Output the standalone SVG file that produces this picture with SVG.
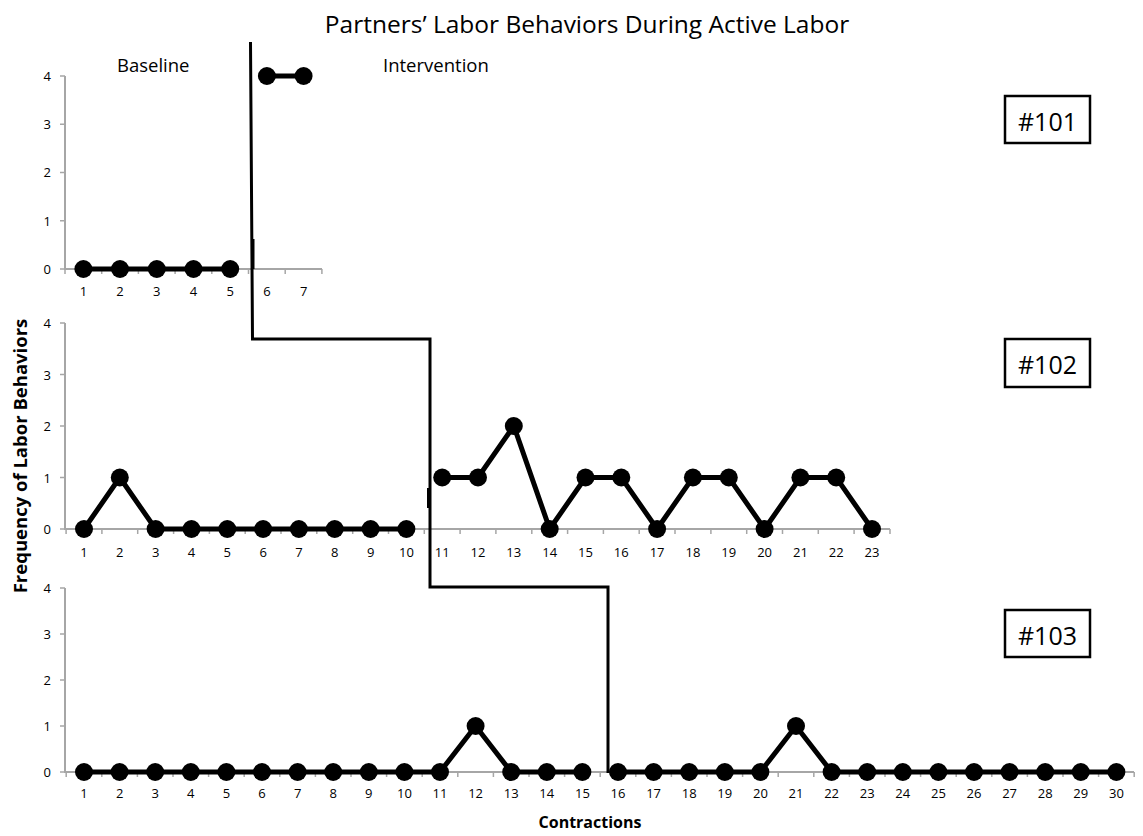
<svg xmlns="http://www.w3.org/2000/svg" width="1143" height="836" viewBox="0 0 1143 836">
<style>
  .axis{fill:none;stroke:#a6a6a6;stroke-width:2}
  .tick{fill:none;stroke:#a6a6a6;stroke-width:1.5}
  .data{fill:none;stroke:#000;stroke-width:5;stroke-linejoin:miter;marker-start:url(#dot);marker-mid:url(#dot);marker-end:url(#dot)}
  .phase{fill:none;stroke:#000;stroke-width:3}
  .lbl{font-family:"Open Sans","Liberation Sans",sans-serif;font-size:13px;fill:#000}
  .yl{text-anchor:end}
  .xl{text-anchor:middle}
  .title{font-family:"Open Sans","Liberation Sans",sans-serif;font-size:24.5px;fill:#000;text-anchor:middle}
  .phaselbl{font-family:"Open Sans","Liberation Sans",sans-serif;font-size:18.5px;fill:#000}
  .axtitle{font-family:"Open Sans","Liberation Sans",sans-serif;font-weight:bold;fill:#000;text-anchor:middle}
  .box{fill:#fff;stroke:#000;stroke-width:2.5}
  .boxtxt{font-family:"Open Sans","Liberation Sans",sans-serif;font-size:25px;fill:#000;text-anchor:middle}
</style>
<defs>
  <marker id="dot" markerUnits="userSpaceOnUse" markerWidth="20" markerHeight="20" refX="10" refY="10" viewBox="0 0 20 20">
    <circle cx="10" cy="10" r="9" fill="#000"/>
  </marker>
</defs>

<text class="title" x="587" y="33">Partners’ Labor Behaviors During Active Labor</text>
<text class="axtitle" font-size="18.5" transform="translate(27,456) rotate(-90)">Frequency of Labor Behaviors</text>
<text class="axtitle" font-size="16" x="590" y="828">Contractions</text>

<g id="panel-101">
  <path class="axis" d="M65 76V269H322"/>
  <path class="tick" d="M60 76h5M60 124.25h5M60 172.5h5M60 220.75h5M60 269h5M65 269v5M101.7 269v5M138.4 269v5M175.1 269v5M211.8 269v5M248.5 269v5M285.2 269v5M321.9 269v5"/>
  <g class="lbl yl">
    <text x="51" y="81">4</text><text x="51" y="129">3</text><text x="51" y="177">2</text><text x="51" y="226">1</text><text x="51" y="274">0</text>
  </g>
  <g class="lbl xl">
    <text x="83.4" y="296">1</text><text x="120" y="296">2</text><text x="156.8" y="296">3</text><text x="193.5" y="296">4</text><text x="230.2" y="296">5</text><text x="266.9" y="296">6</text><text x="303.6" y="296">7</text>
  </g>
  <polyline class="data" points="83.4,269 120,269 156.8,269 193.5,269 230.2,269"/>
  <polyline class="data" points="266.9,76 303.6,76"/>
  <text class="phaselbl" x="117" y="72">Baseline</text>
  <text class="phaselbl" x="383" y="72">Intervention</text>
  <rect class="box" x="1005" y="96" width="85" height="47"/>
  <text class="boxtxt" x="1047.5" y="131">#101</text>
</g>

<g id="panel-102">
  <path class="axis" d="M65 323V529H890"/>
  <path class="tick" d="M60 323h5M60 374.5h5M60 426h5M60 477.5h5M60 529h5M66.1 529v5M101.9 529v5M137.7 529v5M173.6 529v5M209.4 529v5M245.2 529v5M281 529v5M316.8 529v5M352.7 529v5M388.5 529v5M424.3 529v5M460.1 529v5M495.9 529v5M531.8 529v5M567.6 529v5M603.4 529v5M639.2 529v5M675 529v5M710.9 529v5M746.7 529v5M782.5 529v5M818.3 529v5M854.1 529v5M890 529v5"/>
  <g class="lbl yl">
    <text x="51" y="328">4</text><text x="51" y="379.5">3</text><text x="51" y="431">2</text><text x="51" y="482.5">1</text><text x="51" y="534">0</text>
  </g>
  <g class="lbl xl">
    <text x="84" y="557">1</text><text x="119.8" y="557">2</text><text x="155.6" y="557">3</text><text x="191.5" y="557">4</text><text x="227.3" y="557">5</text><text x="263.1" y="557">6</text><text x="298.9" y="557">7</text><text x="334.7" y="557">8</text><text x="370.6" y="557">9</text><text x="406.4" y="557">10</text><text x="442.2" y="557">11</text><text x="478" y="557">12</text><text x="513.8" y="557">13</text><text x="549.7" y="557">14</text><text x="585.5" y="557">15</text><text x="621.3" y="557">16</text><text x="657.1" y="557">17</text><text x="692.9" y="557">18</text><text x="728.8" y="557">19</text><text x="764.6" y="557">20</text><text x="800.4" y="557">21</text><text x="836.2" y="557">22</text><text x="872" y="557">23</text>
  </g>
  <polyline class="data" points="84,529 119.8,477.5 155.6,529 191.5,529 227.3,529 263.1,529 298.9,529 334.7,529 370.6,529 406.4,529"/>
  <polyline class="data" points="442.2,477.5 478,477.5 513.8,426 549.7,529 585.5,477.5 621.3,477.5 657.1,529 692.9,477.5 728.8,477.5 764.6,529 800.4,477.5 836.2,477.5 872,529"/>
  <rect class="box" x="1005" y="339" width="85" height="48"/>
  <text class="boxtxt" x="1047.5" y="374">#102</text>
</g>

<g id="panel-103">
  <path class="axis" d="M65 588V772H1134"/>
  <path class="tick" d="M60 588h5M60 634h5M60 680h5M60 726h5M60 772h5M66.2 772v5M101.8 772v5M137.4 772v5M173 772v5M208.6 772v5M244.2 772v5M279.8 772v5M315.4 772v5M351 772v5M386.6 772v5M422.2 772v5M457.8 772v5M493.4 772v5M529 772v5M564.6 772v5M600.2 772v5M635.8 772v5M671.4 772v5M707 772v5M742.6 772v5M778.2 772v5M813.8 772v5M849.4 772v5M885 772v5M920.6 772v5M956.2 772v5M991.8 772v5M1027.4 772v5M1063 772v5M1098.6 772v5M1134.2 772v5"/>
  <g class="lbl yl">
    <text x="51" y="593">4</text><text x="51" y="639">3</text><text x="51" y="685">2</text><text x="51" y="731">1</text><text x="51" y="777">0</text>
  </g>
  <g class="lbl xl">
    <text x="84" y="798">1</text><text x="119.6" y="798">2</text><text x="155.2" y="798">3</text><text x="190.8" y="798">4</text><text x="226.4" y="798">5</text><text x="262" y="798">6</text><text x="297.6" y="798">7</text><text x="333.2" y="798">8</text><text x="368.8" y="798">9</text><text x="404.4" y="798">10</text><text x="440" y="798">11</text><text x="475.6" y="798">12</text><text x="511.2" y="798">13</text><text x="546.8" y="798">14</text><text x="582.4" y="798">15</text><text x="618" y="798">16</text><text x="653.6" y="798">17</text><text x="689.2" y="798">18</text><text x="724.8" y="798">19</text><text x="760.4" y="798">20</text><text x="796" y="798">21</text><text x="831.6" y="798">22</text><text x="867.2" y="798">23</text><text x="902.8" y="798">24</text><text x="938.4" y="798">25</text><text x="974" y="798">26</text><text x="1009.6" y="798">27</text><text x="1045.2" y="798">28</text><text x="1080.8" y="798">29</text><text x="1116.4" y="798">30</text>
  </g>
  <polyline class="data" points="84,772 119.6,772 155.2,772 190.8,772 226.4,772 262,772 297.6,772 333.2,772 368.8,772 404.4,772 440,772 475.6,726 511.2,772 546.8,772 582.4,772"/>
  <polyline class="data" points="618,772 653.6,772 689.2,772 724.8,772 760.4,772 796,726 831.6,772 867.2,772 902.8,772 938.4,772 974,772 1009.6,772 1045.2,772 1080.8,772 1116.4,772"/>
  <rect class="box" x="1005" y="610" width="85" height="47"/>
  <text class="boxtxt" x="1047.5" y="645">#103</text>
</g>

<g id="connectors">
  <path class="phase" d="M250.5 42L252.5 339H430V587H608V773"/>
  <path class="phase" d="M253 239V269"/>
  <path class="phase" d="M428.5 488V508"/>
</g>
</svg>
